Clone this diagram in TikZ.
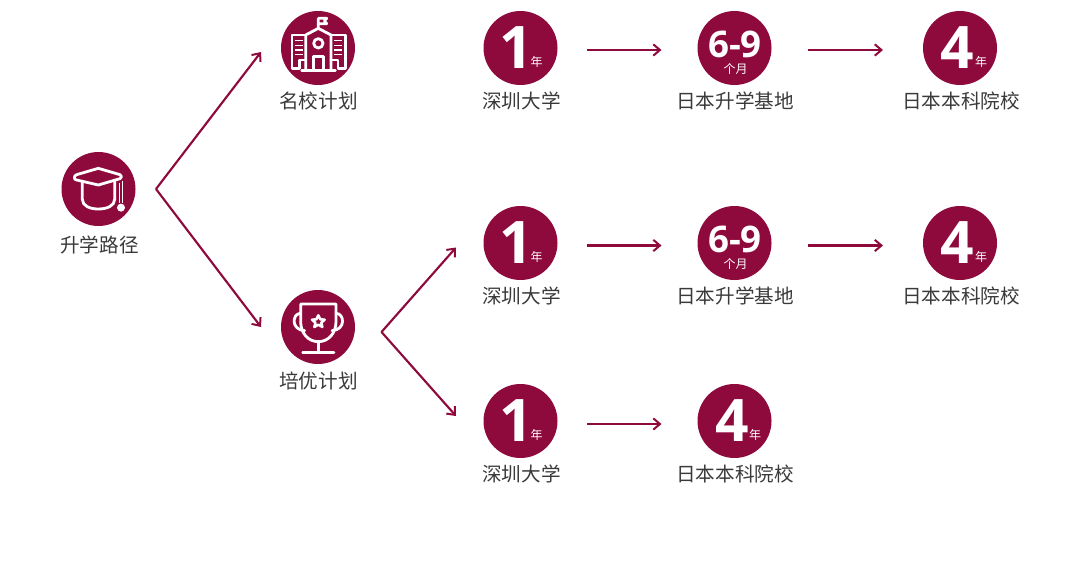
\documentclass[tikz,border=0pt]{standalone}
\usepackage{fontspec}
\setmainfont{Open Sans}
\newfontfamily\cjk{Noto Sans CJK SC}
\usetikzlibrary{arrows.meta}
\definecolor{wine}{HTML}{8F0A3C}
\definecolor{ink}{HTML}{3A3A3A}
\tikzset{
  badge/.style={circle,fill=wine,draw=none,minimum size=55.5pt,inner sep=0pt,outer sep=0pt},
  lab/.style={inner sep=0pt,text=ink,font=\cjk\fontsize{14.7}{15}\selectfont},
  big/.style={inner sep=0pt,text=white,font=\bfseries\fontsize{44}{44}\selectfont},
  mid/.style={inner sep=0pt,text=white,font=\bfseries\fontsize{27.5}{28}\selectfont},
  unit/.style={inner sep=0pt,text=white,font=\cjk\fontsize{9}{10}\selectfont},
  conn/.style={draw=wine,line width=1.6pt,-{Straight Barb[length=5pt,width=8.5pt,line width=1.5pt]}},
  ico/.style={draw=white,line width=2.1pt,line join=round,line cap=round},
  icothin/.style={draw=white,line width=1.2pt,line cap=butt}
}
\begin{document}
\begin{tikzpicture}[x=0.75pt,y=-0.75pt]
\useasboundingbox (0,0) rectangle (1080,570);
% badges
\node[badge] (grad) at (98.5,189) {};
\node[badge] (school) at (318,48) {};
\node[badge] (cup) at (318,327) {};
\node[badge] (a1) at (520.5,48) {};
\node[badge] (a2) at (734.5,48) {};
\node[badge] (a3) at (960,48) {};
\node[badge] (b1) at (520.5,243) {};
\node[badge] (b2) at (734.5,243) {};
\node[badge] (b3) at (960,243) {};
\node[badge] (c1) at (520.5,421) {};
\node[badge] (c2) at (734.5,421) {};
% connectors
\draw[conn] ([shift={(20.5,0)}]grad.east) -- ([shift={(-20,4)}]school.west);
\draw[conn] ([shift={(20.5,0)}]grad.east) -- ([shift={(-20,0)}]cup.west);
\draw[conn] ([shift={(26.5,5)}]cup.east) -- ([shift={(-27.5,4.5)}]b1.west);
\draw[conn] ([shift={(26.5,5)}]cup.east) -- ([shift={(-27.5,-5)}]c1.west);
\foreach \p/\q/\d in {a1/a2/2,b1/b2/2.5,c1/c2/3}{\draw[conn] ([shift={(29.5,\d)}]\p.east) -- ([shift={(-36,\d)}]\q.west);}
\foreach \p/\q/\d in {a2/a3/2,b2/b3/2.5}{\draw[conn] ([shift={(36.5,\d)}]\p.east) -- ([shift={(-40,\d)}]\q.west);}
% labels
\node[lab] (lgrad) at (99.5,245) {升学路径};
\node[lab] (lschool) at (318.5,101) {名校计划};
\node[lab] (lcup) at (318.5,381) {培优计划};
\node[lab] (la1) at (521.5,101) {深圳大学};
\node[lab] (la2) at (735,101) {日本升学基地};
\node[lab] (la3) at (961,101) {日本本科院校};
\node[lab] (lb1) at (521.5,296) {深圳大学};
\node[lab] (lb2) at (735,296) {日本升学基地};
\node[lab] (lb3) at (961,296) {日本本科院校};
\node[lab] (lc1) at (521.5,474) {深圳大学};
\node[lab] (lc2) at (735,474) {日本本科院校};
% numbers
\node[big] (na1) at (516,47.5) {1};
\node[big] (nb1) at (516,242.5) {1};
\node[big] (nc1) at (516,420.5) {1};
\node[big] (na3) at (957,47.5) {4};
\node[big] (nb3) at (957,242.5) {4};
\node[big] (nc2) at (732,420.5) {4};
\node[mid] (na2) at (735,44.5) {6-9};
\node[mid] (nb2) at (735,239.5) {6-9};
\node[unit] (ua1) at (536.5,62) {年};
\node[unit] (ub1) at (536.5,257) {年};
\node[unit] (uc1) at (536.5,435) {年};
\node[unit] (ua3) at (981,62) {年};
\node[unit] (ub3) at (981,257) {年};
\node[unit] (uc2) at (755,435) {年};
\node[unit] (ua2) at (735.5,69) {个月};
\node[unit] (ub2) at (735.5,264) {个月};
% graduation cap (zoom coordinates)
\begin{scope}[shift={(40,140)},x=0.25pt,y=-0.25pt]
\draw[ico] (103,113) .. controls (103,108) and (106,106) .. (110,104) -- (175,85) -- (240,104) .. controls (246,106) and (246,114) .. (240,116) -- (175,135) -- (110,120) .. controls (106,119) and (103,118) .. (103,113);
\draw[ico] (127,124) -- (127,178) .. controls (127,198) and (150,207) .. (175,207) .. controls (200,207) and (224,198) .. (224,178) -- (224,124);
\draw[icothin] (238,128) -- (238,190) (248,122) -- (248,190);
\fill[white] (243,203) circle (12);
\end{scope}
% school
\begin{scope}[shift={(260,0)},x=0.25pt,y=-0.25pt]
\draw[ico] (175,85) -- (175,55) -- (200,55) -- (193,63) -- (200,71) -- (175,71);
\draw[ico] (137,212) -- (137,105) -- (175,85) -- (213,105) -- (213,212);
\draw[ico] (137,105) -- (96,105) -- (96,205) -- (118,205) -- (118,180) -- (137,180);
\draw[ico] (213,105) -- (256,105) -- (256,205) -- (234,205) -- (234,180) -- (213,180);
\draw[ico] (125,212) -- (226,212);
\draw[ico] (175,130) circle (14);
\draw[ico] (160,212) -- (160,170) -- (190,170) -- (190,212);
\foreach \yy in {122,136,150,164}{
  \draw[icothin] (106,\yy) -- (128,\yy);
  \draw[icothin] (223,\yy) -- (245,\yy);
}
\end{scope}
% trophy
\begin{scope}[shift={(260,280)},x=0.25pt,y=-0.25pt]
\draw[ico] (122,72) -- (228,72) -- (228,125) .. controls (228,160) and (205,185) .. (175,185) .. controls (145,185) and (122,160) .. (122,125) -- cycle;
\draw[ico] (122,100) .. controls (96,100) and (92,150) .. (134,152);
\draw[ico] (228,100) .. controls (254,100) and (258,150) .. (216,152);
\draw[ico] (175,185) -- (175,217);
\draw[ico] (128,217) -- (222,217);
\draw[draw=white,line join=round,line width=1.9pt] (175,106) -- (181,118) -- (194,119) -- (184,128) -- (187,141) -- (175,134) -- (163,141) -- (166,128) -- (156,119) -- (169,118) -- cycle;
\end{scope}
\end{tikzpicture}
\end{document}
